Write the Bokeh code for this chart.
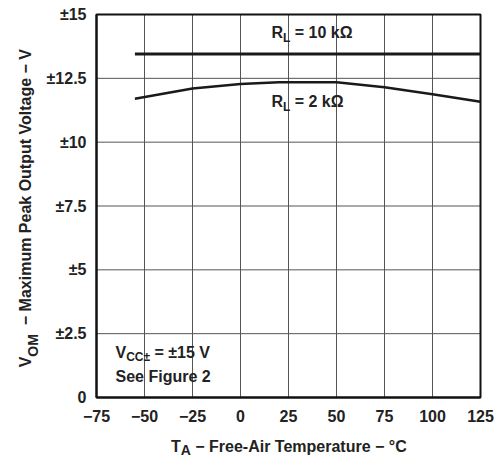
import math
from bokeh.plotting import figure
from bokeh.models import Label, FixedTicker, Range1d
from bokeh.embed import file_html
from bokeh.resources import INLINE

# ---------------- data ----------------
temps_10k = [-55, 125]
vom_10k = [13.45, 13.45]

temps_2k = [-55, -25, 0, 20, 50, 75, 100, 125]
vom_2k = [11.70, 12.10, 12.28, 12.35, 12.35, 12.15, 11.88, 11.58]

x_ticks = [-75, -50, -25, 0, 25, 50, 75, 100, 125]
x_tick_labels = ["−75", "−50", "−25", "0", "25", "50", "75", "100", "125"]
y_ticks = [0, 2.5, 5, 7.5, 10, 12.5, 15]
y_tick_labels = ["0", "±2.5", "±5", "±7.5", "±10", "±12.5", "±15"]

# ---------------- layout / style ----------------
CW, CH = 500, 458                      # canvas
PL, PR, PT, PB = 96, 480, 14, 397      # pixel box of the chart area
FONT = "Liberation Sans"
TXT = "#222222"
BIG = 16
NB = "\u00a0"

# Arial-bold advance widths (per 1000 em) used to place text runs
W = {' ': 278, NB: 278, '−': 584, '-': 333, '=': 584, '±': 549, '°': 400, 'Ω': 768, '.': 278,
     'A': 722, 'C': 722, 'F': 611, 'L': 611, 'M': 833, 'O': 778, 'P': 667, 'R': 722,
     'S': 667, 'T': 611, 'V': 667, 'a': 556, 'c': 556, 'e': 556, 'g': 611, 'i': 278,
     'k': 556, 'l': 278, 'm': 889, 'n': 611, 'o': 611, 'p': 611, 'r': 389, 't': 333,
     'u': 611, 'x': 556, 'y': 556, 'd': 611, 'h': 611, 's': 556, 'f': 333}


def tw(s, size):
    return sum(W.get(c, 556) for c in s) * size / 1000.0


x0, x1 = x_ticks[0], x_ticks[-1]
y0, y1 = y_ticks[0], y_ticks[-1]
xpp = (x1 - x0) / (PR - PL)
ypp = (y1 - y0) / (PB - PT)

# the frame covers the whole canvas; axes sit at fixed data locations
p = figure(width=CW, height=CH, output_backend="svg", toolbar_location=None,
           x_range=Range1d(x0 - PL * xpp, x1 + (CW - PR) * xpp),
           y_range=Range1d(y0 - (CH - PB) * ypp, y1 + PT * ypp),
           min_border=0, min_border_left=0, min_border_right=0,
           min_border_top=0, min_border_bottom=0)
p.background_fill_color = "white"
p.border_fill_color = "white"
p.outline_line_color = None
p.grid.visible = False

for ax, ticks, labels in ((p.xaxis[0], x_ticks, x_tick_labels), (p.yaxis[0], y_ticks, y_tick_labels)):
    ax.ticker = FixedTicker(ticks=ticks)
    ax.major_label_overrides = {t: l for t, l in zip(ticks, labels)}
    ax.major_label_text_font = FONT
    ax.major_label_text_font_style = "bold"
    ax.major_label_text_font_size = f"{BIG}px"
    ax.major_label_text_color = TXT
    ax.axis_line_color = "#111111"
    ax.axis_line_width = 2
    ax.major_tick_in = 0
    ax.major_tick_out = 0
    ax.minor_tick_in = 0
    ax.minor_tick_out = 0
p.xaxis.fixed_location = y0
p.xaxis.bounds = (x0, x1)
p.yaxis.fixed_location = x0
p.yaxis.bounds = (y0, y1)
p.xaxis.major_label_standoff = 12
p.yaxis.major_label_standoff = 10

# grid lines from the tick values
GRID = "#555555"
p.segment(x0=x_ticks, y0=[y0] * len(x_ticks), x1=x_ticks, y1=[y1] * len(x_ticks),
          line_color=GRID, line_width=1)
p.segment(x0=[x0] * len(y_ticks), y0=y_ticks, x1=[x1] * len(y_ticks), y1=y_ticks,
          line_color=GRID, line_width=1)

# curves
p.line(temps_10k, vom_10k, line_color="#1a1a1a", line_width=3)
p.line(temps_2k, vom_2k, line_color="#1a1a1a", line_width=2.5)

# frame border
p.quad(left=[x0], right=[x1], bottom=[y0], top=[y1], fill_color=None,
       line_color="#111111", line_width=2)

bg_labels, fg_labels = [], []


def runs(x, y, parts, angle=0.0, ox=0.0, oy=0.0, center=False, bg=None, pad=3):
    """Place text runs so that their baselines sit at the given offsets."""
    total = sum(tw(t, s) for t, s, _ in parts)
    pos = -total / 2.0 if center else 0.0
    for t, s, shift in parts:
        mid = 0.35 * s           # baseline -> middle of the text
        if angle == 0:
            xo, yo = ox + pos, oy + shift + mid
        else:
            xo, yo = ox - shift - mid, oy + pos
        common = dict(x=x, y=y, x_offset=xo, y_offset=yo, text=t, angle=angle,
                      text_font=FONT, text_font_style="bold",
                      text_font_size=f"{s}px", text_align="left",
                      text_baseline="middle")
        if bg:
            bg_labels.append(Label(text_color=TXT, text_alpha=0.0,
                                   background_fill_color=bg, background_fill_alpha=1.0,
                                   padding=pad, **common))
        fg_labels.append(Label(text_color=TXT, **common))
        pos += tw(t, s)


# axis titles
runs(25.5, y0, [("T", BIG, 0), ("A", 14, -2.5), (NB + "− Free-Air Temperature − °C", BIG, 0)],
     oy=-55, center=True)
runs(x0, 7.44, [("V", BIG, 0), ("OM", 14, -6), (NB + NB + "− Maximum Peak Output Voltage − V", BIG, 0)],
     angle=math.pi / 2, ox=-65, center=True)

# annotations inside the plot
runs(16.1, 14.08, [("R", BIG, 0), ("L", 12, -4), (NB + "= 10 kΩ", BIG, 0)], bg="white")
runs(16.1, 11.37, [("R", BIG, 0), ("L", 12, -4), (NB + "= 2 kΩ", BIG, 0)], bg="white")
runs(-65.1, 1.53, [("V", BIG, 0), ("CC±", 12, -3), (NB + "= ±15 V", BIG, 0)], bg="white", pad=4)
runs(-65.1, 0.59, [("See Figure 2", BIG, 0)], bg="white", pad=4)

for lab in bg_labels + fg_labels:
    p.add_layout(lab)

open("out.html", "w").write(file_html(p, INLINE))
